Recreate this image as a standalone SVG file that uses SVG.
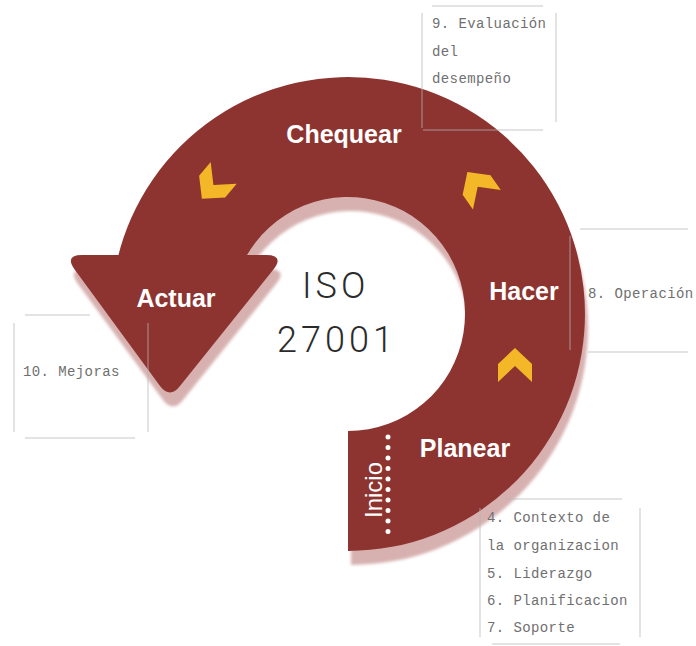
<svg xmlns="http://www.w3.org/2000/svg" width="696" height="646" viewBox="0 0 696 646">
  <style>
    .band { fill: #8d3430; }
    .shadow { fill: #d7b1b0; }
    .chev { fill: #f3b728; }
    .lbl { font-family: "Liberation Sans", Arial, sans-serif; font-weight: bold; font-size: 25px; fill: #ffffff; text-anchor: middle; }
    .ini { font-family: "Liberation Sans", Arial, sans-serif; font-size: 24px; fill: #ffffff; }
    .iso { font-family: Roboto, "Liberation Sans", sans-serif; font-weight: 300; font-size: 36px; fill: #2b2b2b; letter-spacing: 4px; }
    .note { font-family: "Liberation Mono", "DejaVu Sans Mono", monospace; font-size: 14px; fill: #707070; letter-spacing: 0.4px; }
    .guide { stroke: #b4b4b4; stroke-width: 1; fill: none; stroke-opacity: 0.75; }
  </style>
  <defs>
    <path id="chevron" d="M-12,-17 L6,-17 L22,0 L6,17 L-12,17 L4,0 Z"/>
    <filter id="soft" x="-10%" y="-10%" width="120%" height="120%">
      <feGaussianBlur stdDeviation="1.5"/>
    </filter>
    <g id="cycleShape">
      <path d="M348,551 A237,237 0 1 0 117.2,260 L244.2,260 A117,117 0 1 1 348,431 Z"/>
      <path d="M82,255 L266,255 Q285,255 273,270 L180,386 Q170,399 160,386 L75,270 Q64,255 82,255 Z"/>
    </g>
  </defs>
  <rect width="696" height="646" fill="#ffffff"/>

  <g id="cycle">
    <use href="#cycleShape" class="shadow" transform="translate(3,14)" filter="url(#soft)"/>
    <use href="#cycleShape" class="band"/>
  </g>

  <g id="chevrons">
    <use href="#chevron" class="chev" transform="translate(216,182) rotate(130)"/>
    <use href="#chevron" class="chev" transform="translate(480,190) rotate(-125)"/>
    <use href="#chevron" class="chev" transform="translate(515,370) rotate(-90)"/>
  </g>

  <g id="inicio">
    <line x1="388" y1="437" x2="388" y2="542" stroke="#ffffff" stroke-width="5" stroke-linecap="round" stroke-dasharray="0 10.5"/>
    <text class="ini" transform="translate(382,490) rotate(-90)" text-anchor="middle">Inicio</text>
  </g>

  <g id="chequear"><text class="lbl" x="344" y="143">Chequear</text></g>
  <g id="actuar"><text class="lbl" x="176" y="307">Actuar</text></g>
  <g id="hacer"><text class="lbl" x="524" y="300">Hacer</text></g>
  <g id="planear"><text class="lbl" x="465" y="457">Planear</text></g>

  <g id="center-title">
    <text class="iso" x="302" y="298">ISO</text>
    <text class="iso" x="277" y="352">27001</text>
  </g>

  <g id="connectors">
    <line class="guide" x1="432" y1="6" x2="543" y2="6"/>
    <line class="guide" x1="422" y1="13" x2="422" y2="128"/>
    <line class="guide" x1="556" y1="13" x2="556" y2="122"/>
    <line class="guide" x1="423" y1="130" x2="543" y2="130"/>
    <line class="guide" x1="580" y1="229" x2="688" y2="229"/>
    <line class="guide" x1="570" y1="236" x2="570" y2="350"/>
    <line class="guide" x1="588" y1="352" x2="688" y2="352"/>
    <line class="guide" x1="25" y1="315" x2="90" y2="315"/>
    <line class="guide" x1="14" y1="323" x2="14" y2="432"/>
    <line class="guide" x1="148" y1="323" x2="148" y2="432"/>
    <line class="guide" x1="25" y1="438" x2="135" y2="438"/>
    <line class="guide" x1="505" y1="499" x2="622" y2="499"/>
    <line class="guide" x1="480" y1="508" x2="480" y2="637"/>
    <line class="guide" x1="640" y1="508" x2="640" y2="637"/>
    <line class="guide" x1="492" y1="644" x2="620" y2="644"/>
  </g>

  <g id="note-9">
    <text class="note" x="432" y="28">9. Evaluación</text>
    <text class="note" x="432" y="56">del</text>
    <text class="note" x="432" y="83">desempeño</text>
  </g>
  <g id="note-8">
    <text class="note" x="588" y="298">8. Operación</text>
  </g>
  <g id="note-10">
    <text class="note" x="23" y="376">10. Mejoras</text>
  </g>
  <g id="note-4-7">
    <text class="note" x="487" y="522">4. Contexto de</text>
    <text class="note" x="487" y="550">la organizacion</text>
    <text class="note" x="487" y="578">5. Liderazgo</text>
    <text class="note" x="487" y="605">6. Planificacion</text>
    <text class="note" x="487" y="632">7. Soporte</text>
  </g>
</svg>
